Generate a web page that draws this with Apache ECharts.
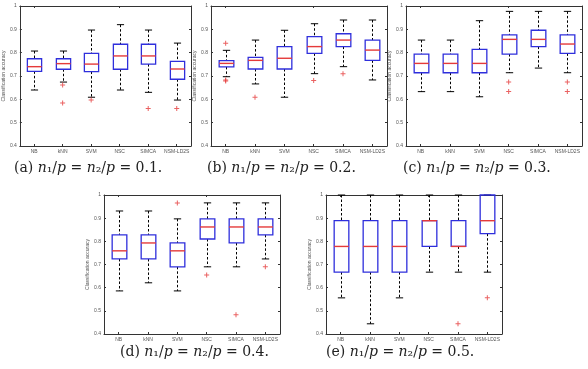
<!DOCTYPE html>
<html>
<head>
<meta charset="utf-8">
<script src="https://cdn.jsdelivr.net/npm/echarts@6/dist/echarts.min.js"></script>
<style>
  html, body { margin: 0; background: #fff; }
  #chart { width: 588px; height: 369px; }
</style>
</head>
<body>
<div id="chart"></div>
<script>
const methods = ['NB', 'kNN', 'SVM', 'NSC', 'SIMCA', 'NSM-LD2S']
const ratios = ['0.1', '0.2', '0.3', '0.4', '0.5']
const yTicks = [0.4, 1, 0.1] // min, max, step

// [lower whisker, Q1, median, Q3, upper whisker] per method
const statsA = [
  [0.640, 0.720, 0.740, 0.774, 0.807],
  [0.674, 0.729, 0.753, 0.774, 0.807],
  [0.609, 0.719, 0.751, 0.797, 0.897],
  [0.640, 0.729, 0.786, 0.836, 0.920],
  [0.630, 0.751, 0.786, 0.836, 0.897],
  [0.597, 0.686, 0.730, 0.763, 0.841],
]
const outliersA = [[1, 0.661], [1, 0.584], [2, 0.597], [4, 0.561], [5, 0.561]]

const statsB = [
  [0.697, 0.739, 0.754, 0.766, 0.810],
  [0.666, 0.730, 0.767, 0.780, 0.854],
  [0.609, 0.730, 0.776, 0.826, 0.896],
  [0.710, 0.797, 0.826, 0.869, 0.924],
  [0.740, 0.826, 0.854, 0.881, 0.940],
  [0.683, 0.767, 0.811, 0.854, 0.940],
]
const outliersB = [[0, 0.840], [0, 0.683], [0, 0.679], [1, 0.609], [3, 0.681], [4, 0.710]]

const statsC = [
  [0.633, 0.714, 0.754, 0.794, 0.854],
  [0.633, 0.714, 0.754, 0.794, 0.854],
  [0.611, 0.714, 0.754, 0.814, 0.937],
  [0.714, 0.794, 0.857, 0.876, 0.977],
  [0.734, 0.826, 0.857, 0.896, 0.977],
  [0.714, 0.797, 0.837, 0.876, 0.977],
]
const outliersC = [[3, 0.674], [3, 0.634], [5, 0.674], [5, 0.634]]

const statsD = [
  [0.586, 0.724, 0.759, 0.828, 0.931],
  [0.621, 0.724, 0.793, 0.828, 0.931],
  [0.586, 0.690, 0.759, 0.793, 0.897],
  [0.690, 0.810, 0.862, 0.897, 0.966],
  [0.690, 0.793, 0.862, 0.897, 0.966],
  [0.724, 0.828, 0.862, 0.897, 0.966],
]
const outliersD = [[2, 0.966], [3, 0.655], [4, 0.483], [5, 0.690]]

const statsE = [
  [0.556, 0.667, 0.778, 0.889, 1.000],
  [0.444, 0.667, 0.778, 0.889, 1.000],
  [0.556, 0.667, 0.778, 0.889, 1.000],
  [0.667, 0.778, 0.889, 0.889, 1.000],
  [0.667, 0.778, 0.778, 0.889, 1.000],
  [0.667, 0.833, 0.889, 1.000, 1.000],
]
const outliersE = [[4, 0.444], [5, 0.556]]

const panels = [
  { letter: 'a', stats: statsA, outliers: outliersA, left: 15, top: 6, height: 140, capX: 14, capY: 161 },
  { letter: 'b', stats: statsB, outliers: outliersB, left: 211, top: 6, height: 140, capX: 207, capY: 161 },
  { letter: 'c', stats: statsC, outliers: outliersC, left: 406, top: 6, height: 140, capX: 403, capY: 161 },
  { letter: 'd', stats: statsD, outliers: outliersD, left: 104, top: 195, height: 139, capX: 120, capY: 345 },
  { letter: 'e', stats: statsE, outliers: outliersE, left: 326, top: 195, height: 139, capX: 326, capY: 345 },
]
const plotW = 176

const plusPath = 'path://M2,0H3V2H5V3H3V5H2V3H0V2H2Z'
const frameColor = '#333'
const labelColor = '#555'

function renderBox(params, api) {
  const i = api.value(0)
  const pt = (k) => api.coord([i, api.value(k)])
  const lo = pt(1), q1 = pt(2), md = pt(3), q3 = pt(4), hi = pt(5)
  const band = api.size([1, 0])[0]
  const x = Math.round(lo[0]) + 0.5
  const bw = band * 0.5, cw = band * 0.25
  const dash = { stroke: '#000', lineWidth: 1, lineDash: [2.5, 2] }
  const solid = { stroke: '#000', lineWidth: 1 }
  return {
    type: 'group',
    children: [
      { type: 'line', shape: { x1: x, y1: hi[1], x2: x, y2: q3[1] }, style: dash },
      { type: 'line', shape: { x1: x, y1: q1[1], x2: x, y2: lo[1] }, style: dash },
      { type: 'line', shape: { x1: x - cw / 2, y1: hi[1], x2: x + cw / 2, y2: hi[1] }, style: solid },
      { type: 'line', shape: { x1: x - cw / 2, y1: lo[1], x2: x + cw / 2, y2: lo[1] }, style: solid },
      { type: 'rect', shape: { x: x - bw / 2, y: q3[1], width: bw, height: q1[1] - q3[1] },
        style: { fill: 'transparent', stroke: '#2f2fdc', lineWidth: 1.3 } },
      { type: 'line', shape: { x1: x - bw / 2, y1: md[1], x2: x + bw / 2, y2: md[1] },
        style: { stroke: '#e53a3a', lineWidth: 1.4 } },
    ],
  }
}

function caption(letter, ratio) {
  return `{r|(${letter}) }{i|n}{r|₁/}{i|p}{r| = }{i|n}{r|₂/}{i|p}{r| = ${ratio}.}`
}

const grid = [], xAxis = [], yAxis = [], series = [], title = []

panels.forEach((p, k) => {
  grid.push({ left: p.left, top: p.top, width: plotW, height: p.height })

  const catBase = {
    type: 'category', gridIndex: k, data: methods, boundaryGap: true,
    axisLine: { show: true, onZero: false, lineStyle: { color: frameColor, width: 1 } },
    axisTick: { show: true, inside: true, length: 2, alignWithLabel: true, lineStyle: { color: frameColor } },
    splitLine: { show: false },
  }
  xAxis.push({ ...catBase, position: 'bottom',
    axisLabel: { fontSize: 5, color: labelColor, margin: 3, interval: 0, fontFamily: 'Liberation Sans' } })
  xAxis.push({ ...catBase, position: 'top', axisLabel: { show: false } })

  const valBase = {
    type: 'value', gridIndex: k, min: yTicks[0], max: yTicks[1], interval: yTicks[2],
    axisLine: { show: true, onZero: false, lineStyle: { color: frameColor, width: 1 } },
    axisTick: { show: true, inside: true, length: 2, lineStyle: { color: frameColor } },
    splitLine: { show: false },
  }
  yAxis.push({ ...valBase, position: 'left',
    name: 'Classification accuracy', nameLocation: 'middle', nameGap: 8,
    nameTextStyle: { fontSize: 5, color: labelColor, fontFamily: 'Liberation Sans' },
    axisLabel: { fontSize: 5, color: labelColor, margin: 3, fontFamily: 'Liberation Sans',
      formatter: (v) => (Math.abs(v - 1) < 1e-9 ? '1' : v.toFixed(1)) } })
  yAxis.push({ ...valBase, position: 'right', axisLabel: { show: false } })

  series.push({
    type: 'custom', xAxisIndex: 2 * k, yAxisIndex: 2 * k,
    renderItem: renderBox,
    encode: { x: 0, y: [1, 2, 3, 4, 5] },
    data: p.stats.map((s, i) => [i, ...s]),
    z: 2,
  })
  series.push({
    type: 'scatter', xAxisIndex: 2 * k, yAxisIndex: 2 * k,
    symbol: plusPath, symbolSize: 5,
    itemStyle: { color: '#e53a3a' },
    data: p.outliers,
    z: 3,
  })

  title.push({
    text: caption(p.letter, ratios[k]),
    left: p.capX, top: p.capY, padding: 0,
    textStyle: {
      fontWeight: 'normal',
      rich: {
        r: { fontFamily: 'DejaVu Serif', fontWeight: 'normal', fontSize: 14, color: '#222' },
        i: { fontFamily: 'DejaVu Serif', fontWeight: 'normal', fontStyle: 'italic', fontSize: 14, color: '#222' },
      },
    },
  })
})

const chart = echarts.init(document.getElementById('chart'), null, { renderer: 'canvas' })
chart.setOption({
  backgroundColor: '#fff',
  animation: false,
  title, grid, xAxis, yAxis, series,
})
</script>
</body>
</html>
